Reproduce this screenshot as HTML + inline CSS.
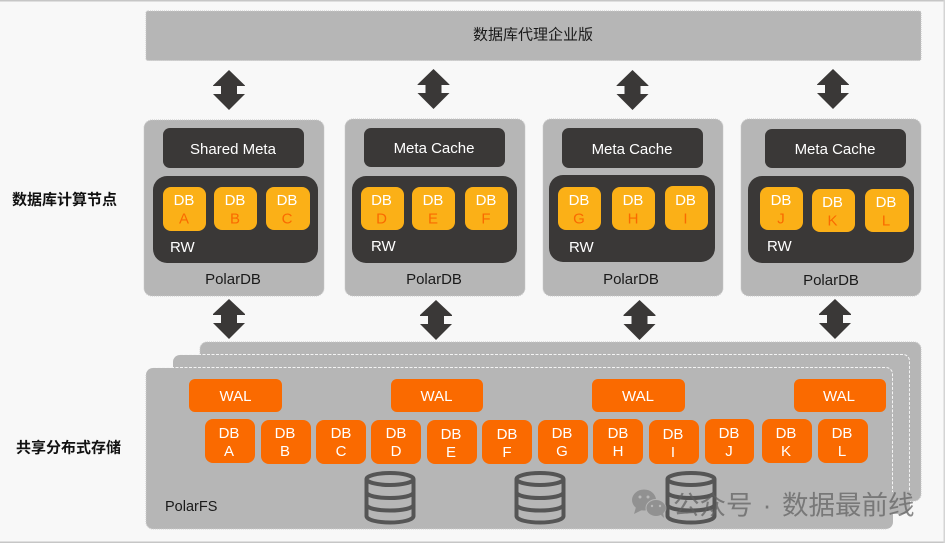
<!DOCTYPE html>
<html lang="zh">
<head>
<meta charset="utf-8">
<title>PolarDB</title>
<style>
html,body{margin:0;padding:0;width:945px;height:543px;overflow:hidden;background:#f8f8f8}
svg{display:block}
text{font-family:"Liberation Sans","Noto Sans CJK SC",sans-serif;font-size:15px;text-anchor:middle}
.pn{fill:#b6b6b6;stroke:#c6c6c6;stroke-width:1;stroke-dasharray:1 1}
.dk{fill:#3a3837}
.ye{fill:#fbb017}
.or{fill:#fa6a00}
.w{fill:#fff}
.k{fill:#1a1a1a}
.l{fill:#fa6a00}
.s{text-anchor:start}
.b{font-weight:bold;font-size:15px;fill:#111}
.wm{font-size:26.500px;fill:#5f5f5f;fill-opacity:.72;text-anchor:start}
</style>
</head>
<body>
<svg width="945" height="543" viewBox="0 0 945 543" xmlns="http://www.w3.org/2000/svg">
<defs>
<path id="a1" d="M0 0L16 15.500V16H8V24H16L0 40L-16 24H-8V16H-16V15.500Z"/>
<g id="cyl" fill="none" stroke="#555" stroke-width="4">
<path d="M-23.500 8V45C-23.500 49 -12 51.500 0 51.500C12 51.500 23.500 49 23.500 45V8"/>
<ellipse cx="0" cy="8" rx="23.500" ry="6"/>
<path d="M-23.500 21C-23.500 25 -12 27 0 27C12 27 23.500 25 23.500 21"/>
<path d="M-23.500 33.500C-23.500 37.500 -12 39.500 0 39.500C12 39.500 23.500 37.500 23.500 33.500"/>
</g>
</defs>

<rect x="0" y="0" width="945" height="1.500" fill="#c6c6c6"/>
<rect x="0" y="541.500" width="945" height="1.500" fill="#c6c6c6"/>
<rect x="943.500" y="0" width="1.500" height="543" fill="#d4d4d4"/>

<rect x="146" y="11" width="775" height="49.500" rx="2" class="pn"/>
<text x="533" y="39.500" style="font-size:15px" class="k">数据库代理企业版</text>

<g fill="#3a3837">
<use href="#a1" x="229" y="70"/>
<use href="#a1" x="433.500" y="69"/>
<use href="#a1" x="632.500" y="70"/>
<use href="#a1" x="833" y="69"/>
</g>

<rect x="144" y="120" width="180" height="176" rx="8" class="pn"/>
<rect x="345" y="119" width="180" height="177" rx="8" class="pn"/>
<rect x="543" y="119" width="180" height="177" rx="8" class="pn"/>
<rect x="741" y="119" width="180" height="177" rx="8" class="pn"/>

<rect x="163" y="128" width="141" height="40" rx="7" class="dk"/>
<rect x="364" y="128" width="141" height="39" rx="7" class="dk"/>
<rect x="562" y="128" width="141" height="40" rx="7" class="dk"/>
<rect x="765" y="129" width="141" height="39" rx="7" class="dk"/>
<text x="233" y="154" class="w">Shared Meta</text>
<text x="434" y="153" class="w">Meta Cache</text>
<text x="632" y="154" class="w">Meta Cache</text>
<text x="835" y="154" class="w">Meta Cache</text>

<rect x="153" y="176" width="165" height="87" rx="14" class="dk"/>
<rect x="352" y="176" width="165" height="87" rx="14" class="dk"/>
<rect x="549" y="175" width="166" height="87" rx="14" class="dk"/>
<rect x="748" y="176" width="166" height="87" rx="14" class="dk"/>

<g class="ye">
<rect x="163" y="187" width="43" height="44" rx="8"/>
<rect x="214" y="187" width="43" height="43" rx="8"/>
<rect x="266" y="187" width="44" height="43" rx="8"/>
<rect x="361" y="187" width="43" height="43" rx="8"/>
<rect x="412" y="187" width="43" height="43" rx="8"/>
<rect x="465" y="187" width="43" height="43" rx="8"/>
<rect x="558" y="187" width="43" height="43" rx="8"/>
<rect x="612" y="187" width="43" height="43" rx="8"/>
<rect x="665" y="186" width="43" height="44" rx="8"/>
<rect x="760" y="187" width="43" height="43" rx="8"/>
<rect x="812" y="189" width="43" height="43" rx="8"/>
<rect x="865" y="189" width="44" height="43" rx="8"/>
</g>

<text x="184" y="205" class="w">DB</text>
<text x="235" y="205" class="w">DB</text>
<text x="287" y="205" class="w">DB</text>
<text x="381.500" y="205" class="w">DB</text>
<text x="433" y="205" class="w">DB</text>
<text x="486" y="205" class="w">DB</text>
<text x="579" y="205" class="w">DB</text>
<text x="633" y="205" class="w">DB</text>
<text x="685.500" y="205" class="w">DB</text>
<text x="781" y="205" class="w">DB</text>
<text x="832.500" y="207" class="w">DB</text>
<text x="886" y="207" class="w">DB</text>

<text x="184" y="223.500" class="l">A</text>
<text x="235" y="223.500" class="l">B</text>
<text x="287" y="223.500" class="l">C</text>
<text x="381.500" y="223.500" class="l">D</text>
<text x="433" y="223.500" class="l">E</text>
<text x="486" y="223.500" class="l">F</text>
<text x="579" y="223.500" class="l">G</text>
<text x="633" y="223.500" class="l">H</text>
<text x="685.500" y="223.500" class="l">I</text>
<text x="781" y="223.500" class="l">J</text>
<text x="832.500" y="225.500" class="l">K</text>
<text x="886" y="225.500" class="l">L</text>

<text x="170" y="252" class="w s">RW</text>
<text x="371" y="251" class="w s">RW</text>
<text x="569" y="252" class="w s">RW</text>
<text x="767" y="251" class="w s">RW</text>

<text x="233" y="284" class="k">PolarDB</text>
<text x="434" y="284" class="k">PolarDB</text>
<text x="631" y="284" class="k">PolarDB</text>
<text x="831" y="285" class="k">PolarDB</text>

<g fill="#3a3837">
<path d="M229 299L245 314V315H237V323H245L229 339L213 323H221V315H213V314Z"/>
<path d="M436 300L452 315V316H444V324H452L436 340L420 324H428V316H420V315Z"/>
<path d="M639.500 300L655.500 315V316H647.500V324H655.500L639.500 340L623.500 324H631.500V316H623.500V315Z"/>
<path d="M835 299L851 314V315H843V323H851L835 339L819 323H827V315H819V314Z"/>
</g>

<rect x="200" y="342" width="721" height="159" rx="7" class="pn"/>
<rect x="173" y="355" width="737" height="159" rx="7" fill="#b6b6b6"/>
<rect x="146" y="368" width="747" height="161" rx="7" fill="#b6b6b6"/>
<path d="M180 354.500H903A6.500 6.500 0 0 1 909.500 361V492" fill="none" stroke="#f4f4f4" stroke-width="1" stroke-dasharray="3 1.500"/>
<path d="M153 367.500H886A6.500 6.500 0 0 1 892.500 374V492" fill="none" stroke="#f4f4f4" stroke-width="1" stroke-dasharray="3 1.500"/>
<path d="M146 375V522A7 7 0 0 0 153 529H886" fill="none" stroke="#cdcdcd" stroke-width="1" stroke-dasharray="1 1"/>

<g class="or">
<rect x="189" y="379" width="93" height="33" rx="6"/>
<rect x="391" y="379" width="92" height="33" rx="6"/>
<rect x="592" y="379" width="93" height="33" rx="6"/>
<rect x="794" y="379" width="92" height="33" rx="6"/>
</g>
<text x="235.500" y="401" class="w">WAL</text>
<text x="436.500" y="401" class="w">WAL</text>
<text x="638" y="401" class="w">WAL</text>
<text x="839" y="401" class="w">WAL</text>

<g class="or">
<rect x="205" y="419" width="50" height="44" rx="8"/>
<rect x="261" y="420" width="50" height="44" rx="8"/>
<rect x="316" y="420" width="50" height="44" rx="8"/>
<rect x="371" y="420" width="50" height="44" rx="8"/>
<rect x="427" y="420" width="50" height="44" rx="8"/>
<rect x="482" y="420" width="50" height="44" rx="8"/>
<rect x="538" y="420" width="50" height="44" rx="8"/>
<rect x="593" y="419" width="50" height="45" rx="8"/>
<rect x="649" y="420" width="50" height="44" rx="8"/>
<rect x="705" y="419" width="49" height="45" rx="8"/>
<rect x="762" y="419" width="50" height="44" rx="8"/>
<rect x="818" y="419" width="50" height="44" rx="8"/>
</g>

<text x="229" y="438" class="w">DB</text><text x="229" y="456" class="w">A</text>
<text x="285" y="438" class="w">DB</text><text x="285" y="456" class="w">B</text>
<text x="341" y="438" class="w">DB</text><text x="341" y="456" class="w">C</text>
<text x="396" y="438" class="w">DB</text><text x="396" y="456" class="w">D</text>
<text x="451" y="439" class="w">DB</text><text x="451" y="457" class="w">E</text>
<text x="507" y="439" class="w">DB</text><text x="507" y="457" class="w">F</text>
<text x="562" y="438" class="w">DB</text><text x="562" y="456" class="w">G</text>
<text x="618" y="438" class="w">DB</text><text x="618" y="456" class="w">H</text>
<text x="673" y="439" class="w">DB</text><text x="673" y="457" class="w">I</text>
<text x="729" y="438" class="w">DB</text><text x="729" y="456" class="w">J</text>
<text x="786" y="438" class="w">DB</text><text x="786" y="456" class="w">K</text>
<text x="842" y="438" class="w">DB</text><text x="842" y="456" class="w">L</text>

<text x="165" y="511" class="k s" style="font-size:14.500px">PolarFS</text>

<use href="#cyl" x="390" y="471"/>
<use href="#cyl" x="540" y="471"/>
<use href="#cyl" x="691" y="471"/>

<text x="64.500" y="204.500" class="b">数据库计算节点</text>
<text x="68.500" y="452.500" class="b">共享分布式存储</text>

<g opacity="0.62">
<ellipse cx="644" cy="500" rx="12" ry="10.500" fill="#7c7c7c"/>
<path d="M636 507L634 514L642 510Z" fill="#7c7c7c"/>
<ellipse cx="656" cy="508" rx="10" ry="8.500" fill="#7c7c7c" stroke="#b6b6b6" stroke-width="1"/>
<path d="M660 514L664 518L663 512Z" fill="#7c7c7c"/>
<circle cx="640" cy="497" r="1.500" fill="#bbb"/>
<circle cx="648" cy="497" r="1.500" fill="#bbb"/>
<circle cx="652" cy="506" r="1.200" fill="#bbb"/>
<circle cx="660" cy="506" r="1.200" fill="#bbb"/>
</g>
<text x="673" y="514.500" class="wm">公众号</text>
<text x="767" y="514.500" class="wm" style="text-anchor:middle">·</text>
<text x="782" y="514.500" class="wm">数据最前线</text>
</svg>
</body>
</html>
